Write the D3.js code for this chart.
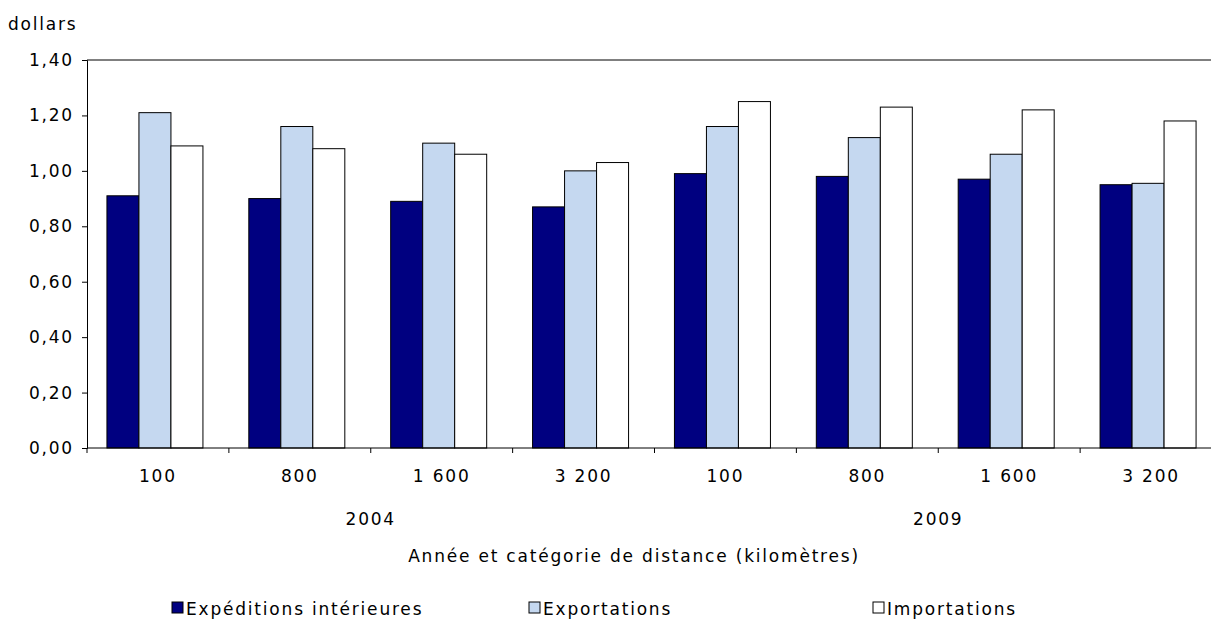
<!DOCTYPE html>
<html><head><meta charset="utf-8">
<script src="https://cdn.jsdelivr.net/npm/d3@7"></script>
<style>body{margin:0;background:#fff}text{font-family:"DejaVu Sans",Verdana,sans-serif;font-size:17px;letter-spacing:1.8px;fill:#000}</style>
</head><body>
<svg id="c" width="1211" height="622"></svg>
<script>
var categories = ["100", "800", "1 600", "3 200", "100", "800", "1 600", "3 200"];
var years = ["2004", "2009"];
var domestic = [0.91, 0.90, 0.89, 0.87, 0.99, 0.98, 0.97, 0.95];
var exports = [1.21, 1.16, 1.10, 1.00, 1.16, 1.12, 1.06, 0.955];
var imports = [1.09, 1.08, 1.06, 1.03, 1.25, 1.23, 1.22, 1.18];
var seriesNames = ["Expéditions intérieures", "Exportations", "Importations"];
var colors = ["#000080", "#c5d8f0", "#ffffff"];
var yTicks = [0, 0.2, 0.4, 0.6, 0.8, 1.0, 1.2, 1.4];

var svg = d3.select("#c");
var mLeft = 87, mRight = 1222, mTop = 60, mBottom = 448;
var x = d3.scaleBand().domain(d3.range(8)).range([mLeft, mRight]);
var y = d3.scaleLinear().domain([0, 1.4]).range([mBottom, mTop]);
var fmt = function(d){ return d3.format(".2f")(d).replace(".", ","); };

svg.append("g").attr("transform", "translate(" + mLeft + ",0)")
  .call(d3.axisLeft(y).tickValues(yTicks).tickFormat(fmt).tickSize(5).tickPadding(8))
  .call(function(g){
    g.attr("font-family", null).attr("font-size", null);
    g.select(".domain").attr("stroke", "#000");
    g.selectAll("text").style("font-size", "17px");
  });
svg.append("line").attr("x1", mLeft).attr("x2", 1211).attr("y1", mTop).attr("y2", mTop).attr("stroke", "#000");

var all = [domestic, exports, imports];
var bw = 32;
all.forEach(function(vals, s) {
  svg.append("g").selectAll("rect").data(vals).enter().append("rect")
    .attr("x", function(d, i){ return x(i) + x.bandwidth()/2 - 1.5*bw + s*bw - 3; })
    .attr("y", function(d){ return y(d); })
    .attr("width", bw).attr("height", function(d){ return mBottom - y(d); })
    .attr("fill", colors[s]).attr("stroke", "#000").attr("stroke-width", 1);
});

svg.append("line").attr("x1", mLeft).attr("x2", 1211).attr("y1", mBottom).attr("y2", mBottom).attr("stroke", "#000");
svg.selectAll(".xt").data(d3.range(9)).enter().append("line")
  .attr("x1", function(i){ return mLeft + i*x.step(); }).attr("x2", function(i){ return mLeft + i*x.step(); })
  .attr("y1", mBottom).attr("y2", mBottom + 5).attr("stroke", "#000");
svg.selectAll(".xl").data(categories).enter().append("text")
  .attr("x", function(d, i){ return x(i) + x.bandwidth()/2; }).attr("y", 482)
  .attr("text-anchor", "middle").text(function(d){ return d; });
svg.selectAll(".yl").data(years).enter().append("text")
  .attr("x", function(d, i){ return x(i*4 + 2); }).attr("y", 525)
  .attr("text-anchor", "middle").text(function(d){ return d; });
svg.append("text").attr("x", 634).attr("y", 562).attr("text-anchor", "middle")
  .text("Année et catégorie de distance (kilomètres)");
svg.append("text").attr("x", 8).attr("y", 30).text("dollars");

var lx = [172, 529, 873];
seriesNames.forEach(function(n, i) {
  svg.append("rect").attr("x", lx[i]).attr("y", 602).attr("width", 11).attr("height", 11)
    .attr("fill", colors[i]).attr("stroke", "#000");
  svg.append("text").attr("x", lx[i] + 14).attr("y", 615).text(n);
});
</script>
</body></html>
